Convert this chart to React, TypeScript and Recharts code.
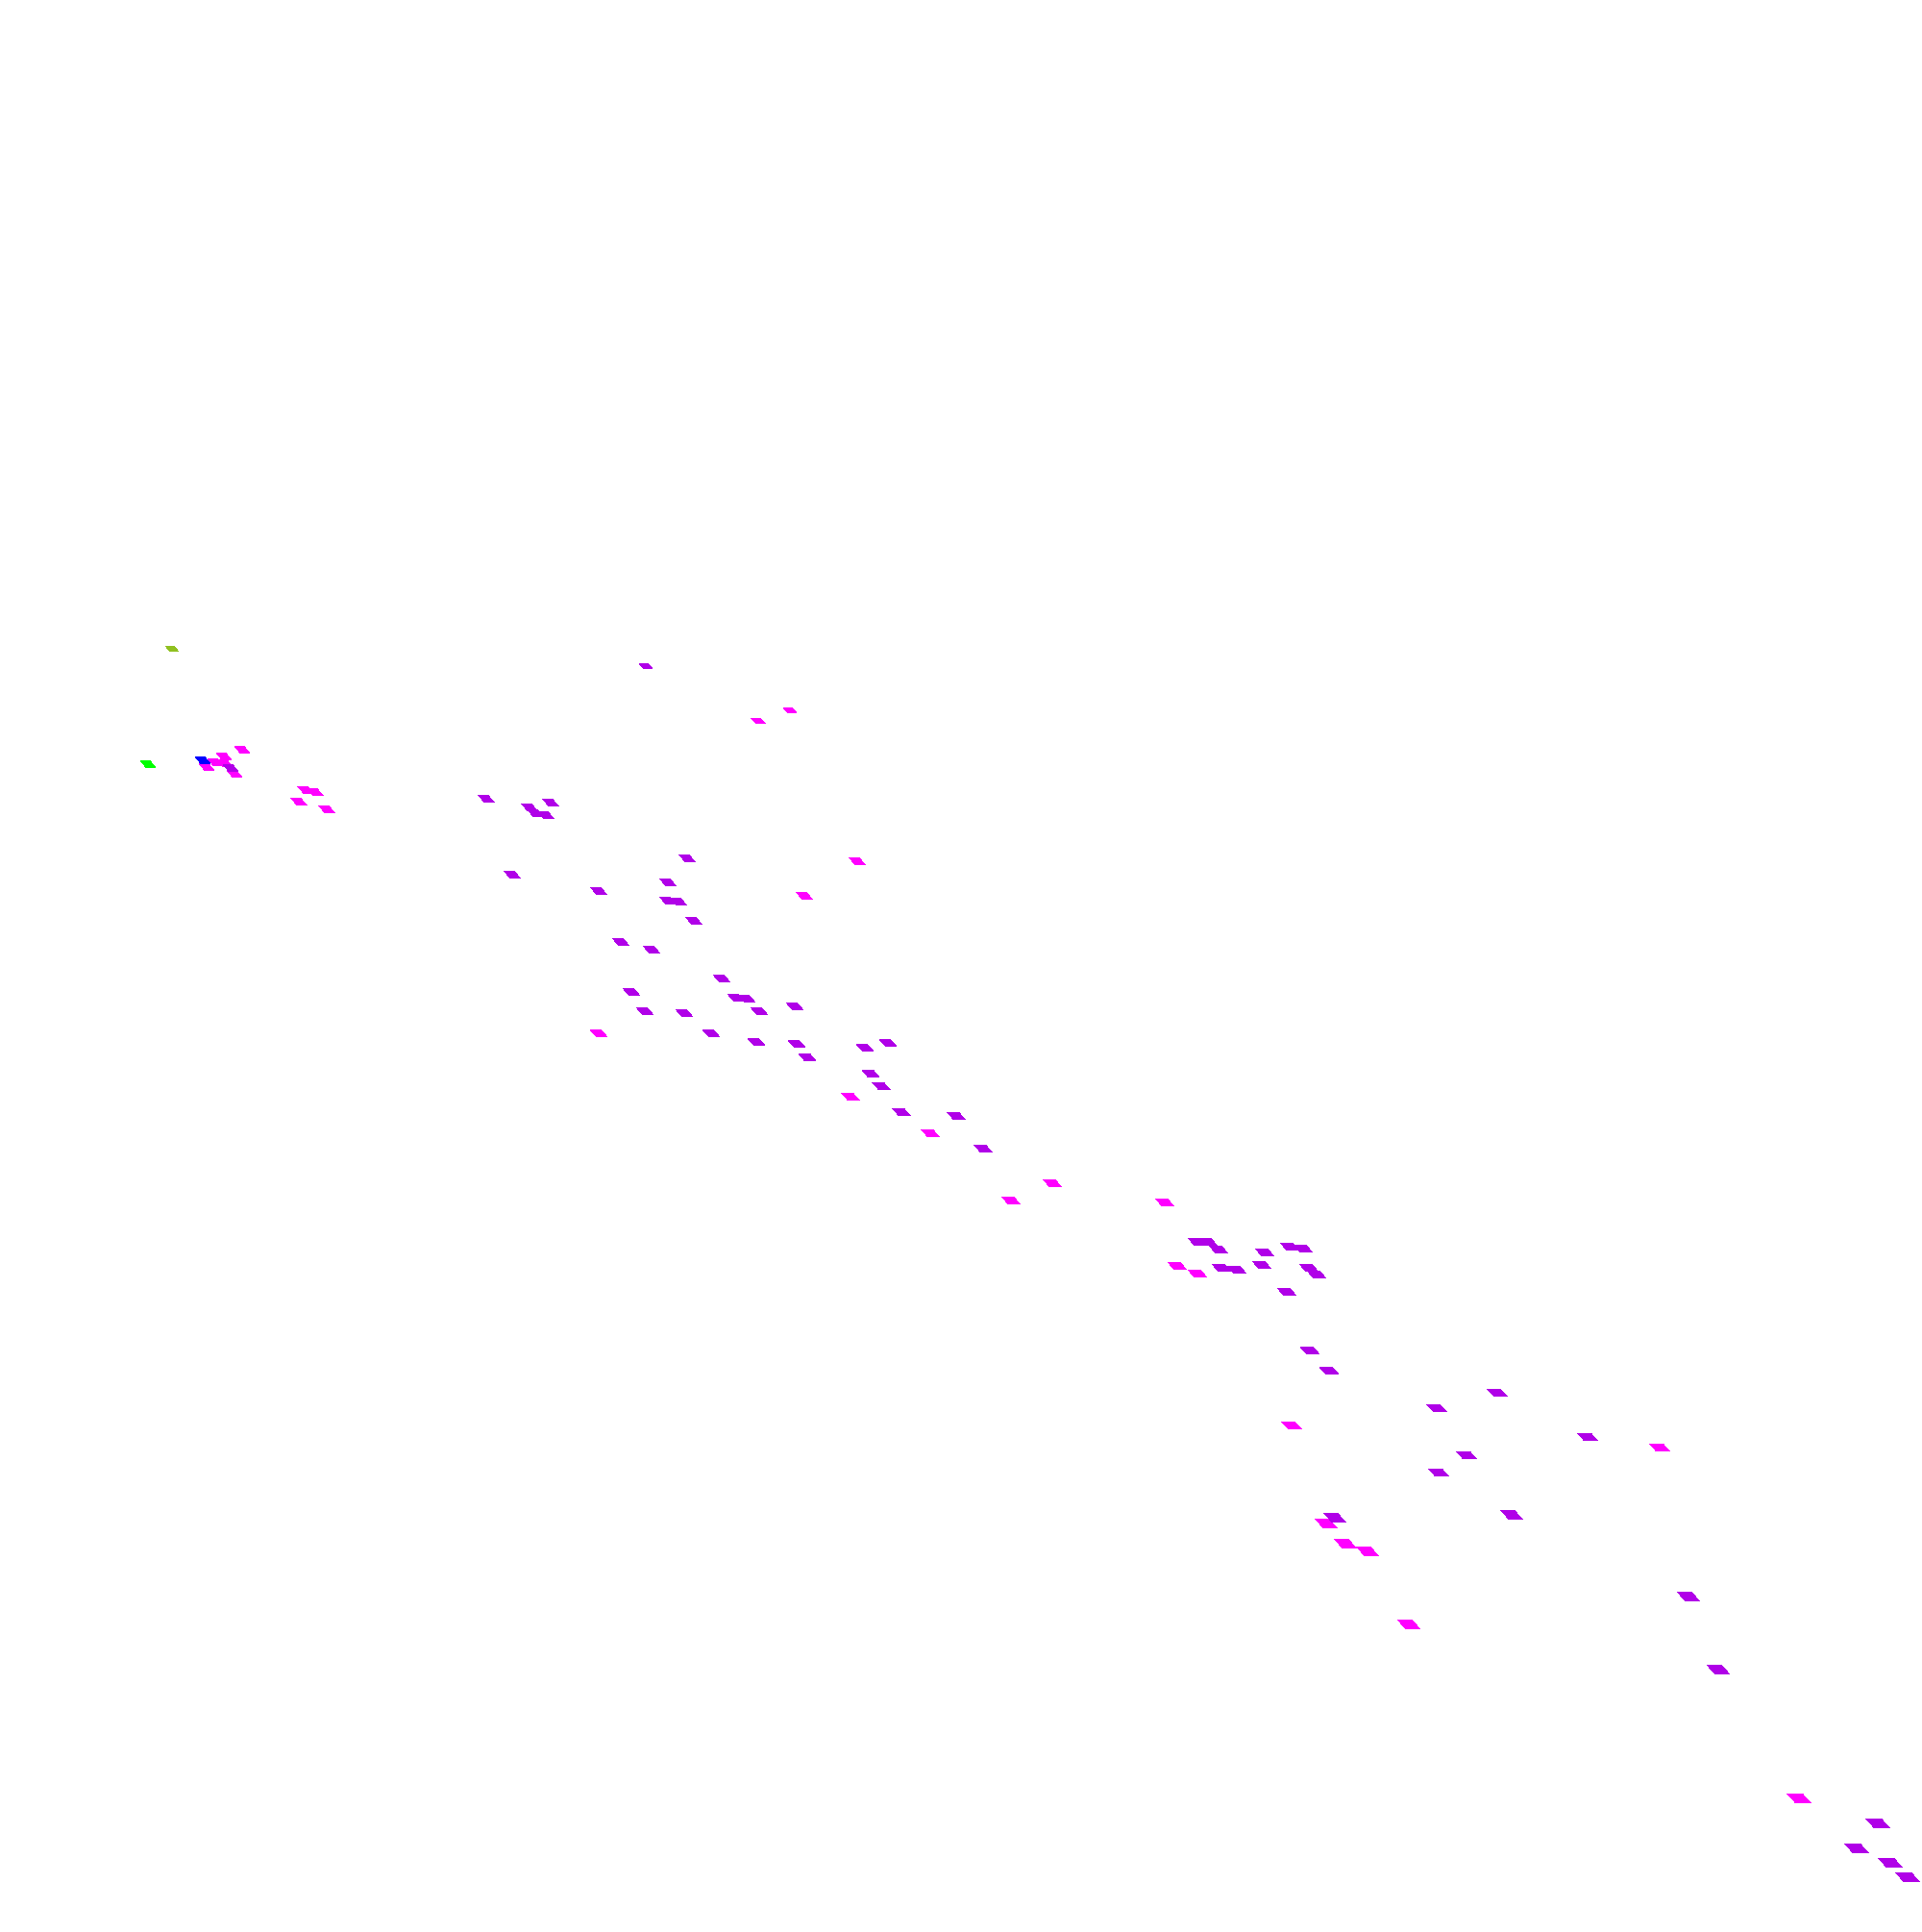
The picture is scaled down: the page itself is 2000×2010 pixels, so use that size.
import { ScatterChart, Scatter, XAxis, YAxis } from "recharts";

// values (arbitrary units, no axes shown)
const magentaPts = [
  { x: 10.75, y: 60.6 }, { x: 11.2, y: 60.85 }, { x: 11.7, y: 60.8 }, { x: 11.65, y: 61.15 },
  { x: 12.2, y: 60.25 }, { x: 12.6, y: 61.5 }, { x: 15.9, y: 59.4 }, { x: 16.4, y: 59.3 },
  { x: 15.55, y: 58.8 }, { x: 17.0, y: 58.4 }, { x: 41.1, y: 63.55 }, { x: 39.45, y: 63.0 },
  { x: 44.6, y: 55.7 }, { x: 41.85, y: 53.9 }, { x: 31.15, y: 46.75 }, { x: 44.25, y: 43.45 },
  { x: 48.4, y: 41.55 }, { x: 52.6, y: 38.05 }, { x: 54.75, y: 38.95 }, { x: 60.6, y: 37.95 },
  { x: 61.25, y: 34.65 }, { x: 62.3, y: 34.25 }, { x: 67.2, y: 26.35 }, { x: 86.35, y: 25.2 },
  { x: 69.0, y: 21.25 }, { x: 70.0, y: 20.2 }, { x: 71.15, y: 19.8 }, { x: 73.3, y: 16.0 },
  { x: 93.6, y: 6.95 },
];

const purplePts = [
  { x: 12.0, y: 60.55 }, { x: 33.6, y: 65.85 }, { x: 25.3, y: 58.95 }, { x: 28.65, y: 58.75 },
  { x: 27.55, y: 58.5 }, { x: 27.85, y: 58.2 }, { x: 28.4, y: 58.1 }, { x: 35.75, y: 55.85 },
  { x: 26.65, y: 55.0 }, { x: 34.75, y: 54.6 }, { x: 31.15, y: 54.15 }, { x: 34.75, y: 53.65 },
  { x: 35.3, y: 53.6 }, { x: 36.1, y: 52.6 }, { x: 32.3, y: 51.5 }, { x: 33.9, y: 51.1 },
  { x: 37.55, y: 49.6 }, { x: 32.85, y: 48.9 }, { x: 38.3, y: 48.6 }, { x: 38.85, y: 48.55 },
  { x: 41.35, y: 48.15 }, { x: 33.55, y: 47.9 }, { x: 35.6, y: 47.8 }, { x: 39.5, y: 47.9 },
  { x: 37.0, y: 46.75 }, { x: 39.35, y: 46.3 }, { x: 41.45, y: 46.2 }, { x: 45.0, y: 46.0 },
  { x: 46.2, y: 46.25 }, { x: 42.0, y: 45.5 }, { x: 45.3, y: 44.65 }, { x: 45.85, y: 44.0 },
  { x: 46.9, y: 42.65 }, { x: 49.75, y: 42.45 }, { x: 51.15, y: 40.75 }, { x: 62.3, y: 35.9 },
  { x: 62.85, y: 35.9 }, { x: 63.4, y: 35.5 }, { x: 65.8, y: 35.35 }, { x: 67.1, y: 35.65 },
  { x: 67.8, y: 35.55 }, { x: 63.55, y: 34.55 }, { x: 64.35, y: 34.45 }, { x: 65.65, y: 34.7 },
  { x: 68.1, y: 34.55 }, { x: 68.5, y: 34.2 }, { x: 66.95, y: 33.3 }, { x: 68.15, y: 30.25 },
  { x: 69.15, y: 29.2 }, { x: 77.9, y: 28.05 }, { x: 74.75, y: 27.25 }, { x: 82.6, y: 25.75 },
  { x: 76.3, y: 24.8 }, { x: 74.85, y: 23.9 }, { x: 69.45, y: 21.55 }, { x: 78.65, y: 21.7 },
  { x: 87.85, y: 17.45 }, { x: 89.4, y: 13.65 }, { x: 97.7, y: 5.65 }, { x: 96.6, y: 4.35 },
  { x: 98.35, y: 3.6 }, { x: 99.25, y: 2.85 },
];

const bluePts = [{ x: 10.55, y: 60.95 }];
const limePts = [{ x: 7.7, y: 60.75 }];
const olivePts = [{ x: 8.95, y: 66.75 }];

// slanted marker, grows a bit toward the bottom (perspective look)
const Rhomb = (props: any) => {
  const { cx, cy, fill } = props;
  if (cx == null || cy == null) return null;
  const w = 16 + (cy - 675) * 0.0085;
  const h = 0.3 * w + 2;
  const a = 0.66 * w;
  const d = w - a;
  const pts = [
    [cx - w / 2, cy - h / 2],
    [cx - w / 2 + a, cy - h / 2],
    [cx + w / 2, cy + h / 2],
    [cx - w / 2 + d, cy + h / 2],
  ]
    .map((p) => p.join(","))
    .join(" ");
  return <polygon points={pts} fill={fill} shapeRendering="crispEdges" />;
};

export default function App() {
  return (
    <div style={{ position: "absolute", left: 0, top: 0, background: "#fff" }}>
      <ScatterChart width={2000} height={2010} margin={{ top: 0, right: 0, bottom: 0, left: 0 }}>
        <XAxis type="number" dataKey="x" domain={[0, 100]} hide />
        <YAxis type="number" dataKey="y" domain={[0, 100.5]} hide />
        <Scatter data={magentaPts} fill="#ff00ff" shape={Rhomb} isAnimationActive={false} />
        <Scatter data={purplePts} fill="#b000e8" shape={Rhomb} isAnimationActive={false} />
        <Scatter data={bluePts} fill="#0000ff" shape={Rhomb} isAnimationActive={false} />
        <Scatter data={limePts} fill="#00ff00" shape={Rhomb} isAnimationActive={false} />
        <Scatter data={olivePts} fill="#90c020" shape={Rhomb} isAnimationActive={false} />
      </ScatterChart>
    </div>
  );
}
